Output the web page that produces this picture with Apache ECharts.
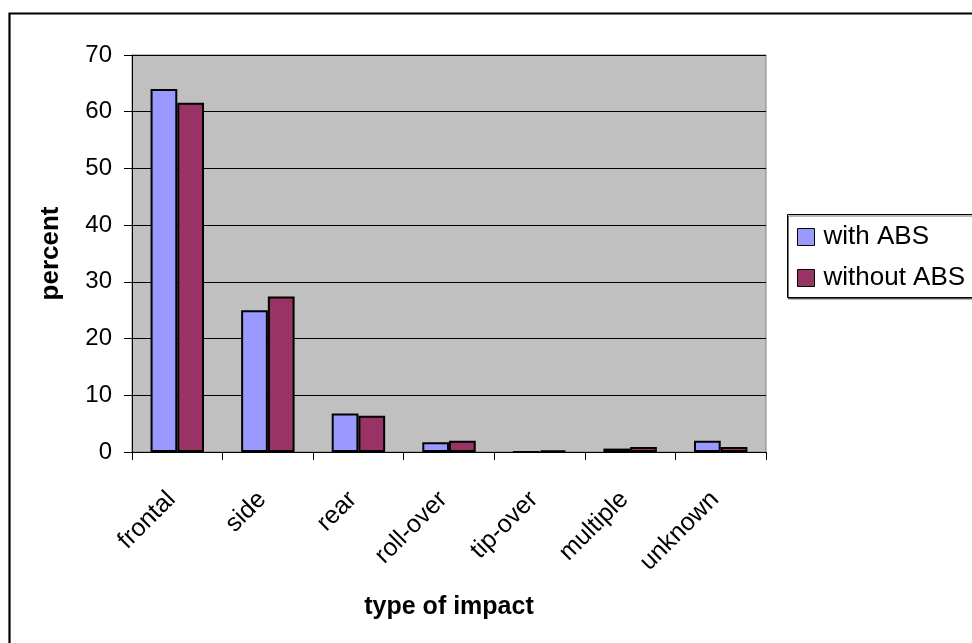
<!DOCTYPE html>
<html>
<head>
<meta charset="utf-8">
<script src="https://cdn.jsdelivr.net/npm/echarts@6/dist/echarts.min.js"></script>
<style>
  html, body { margin: 0; padding: 0; background: #ffffff; }
  #chart { width: 972px; height: 643px; }
</style>
</head>
<body>
<div id="chart"></div>
<script>
// Crash impact types, share of accidents (%)
const categories = ['frontal', 'side', 'rear', 'roll-over', 'tip-over', 'multiple', 'unknown'];
const withABS = [64.0, 25.0, 6.8, 1.7, 0.0, 0.6, 2.0];
const withoutABS = [61.6, 27.4, 6.4, 2.0, 0.3, 0.9, 0.9];
const seriesNames = ['with ABS', 'without ABS'];
const yTicks = { min: 0, max: 70, interval: 10 };

const font = 'Liberation Sans, Arial, sans-serif';

const chart = echarts.init(document.getElementById('chart'), null, { renderer: 'canvas' });

chart.setOption({
  animation: false,
  backgroundColor: '#ffffff',
  textStyle: { fontFamily: font },
  graphic: [
    // outer chart frame
    { type: 'rect', z: -1, shape: { x: 9.5, y: 13.5, width: 1000, height: 700 },
      style: { fill: 'none', stroke: '#000', lineWidth: 2.2 } },
    // legend frame
    { type: 'rect', z: 1, shape: { x: 787.5, y: 214.5, width: 300, height: 83 },
      style: { fill: '#fff', stroke: '#000', lineWidth: 1,
               shadowColor: 'rgba(0,0,0,0.55)', shadowOffsetX: 1, shadowOffsetY: 1.5 } }
  ],
  grid: { left: 132, top: 55, right: 206, bottom: 191, show: true,
          backgroundColor: '#c0c0c0', borderColor: '#808080', borderWidth: 1 },
  legend: {
    data: seriesNames, orient: 'vertical', left: 792, top: 219, z: 5,
    itemWidth: 17, itemHeight: 17, itemGap: 15, icon: 'rect',
    textStyle: { fontSize: 26, color: '#000', fontFamily: font, padding: [0, 0, 0, 4] },
    itemStyle: { borderColor: '#000', borderWidth: 1 }
  },
  xAxis: {
    type: 'category', data: categories,
    name: 'type of impact', nameLocation: 'middle', nameGap: 143,
    nameTextStyle: { fontSize: 25, fontWeight: 'bold', color: '#000', fontFamily: font },
    axisLine: { lineStyle: { color: '#000', width: 1 } },
    axisTick: { show: true, length: 8, lineStyle: { color: '#000' } },
    axisLabel: { rotate: 45, fontSize: 25, color: '#000', margin: 38,
                 padding: [0, 8, 0, 0], fontFamily: font },
    splitLine: { show: false }
  },
  yAxis: {
    type: 'value', min: yTicks.min, max: yTicks.max, interval: yTicks.interval,
    name: 'percent', nameLocation: 'middle', nameGap: 68, nameRotate: 90,
    nameTextStyle: { fontSize: 26, fontWeight: 'bold', color: '#000', fontFamily: font },
    axisLine: { show: true, lineStyle: { color: '#000', width: 1 } },
    axisTick: { show: true, length: 8, lineStyle: { color: '#000' } },
    axisLabel: { fontSize: 24, color: '#000', margin: 20, fontFamily: font },
    splitLine: { show: true, lineStyle: { color: '#000', width: 1 } }
  },
  series: [
    { name: seriesNames[0], type: 'bar', data: withABS, barGap: '0%', barCategoryGap: '41%',
      itemStyle: { color: '#9999ff', borderColor: '#000', borderWidth: 2 } },
    { name: seriesNames[1], type: 'bar', data: withoutABS, barGap: '0%', barCategoryGap: '41%',
      itemStyle: { color: '#993366', borderColor: '#000', borderWidth: 2 } }
  ]
});
</script>
</body>
</html>
